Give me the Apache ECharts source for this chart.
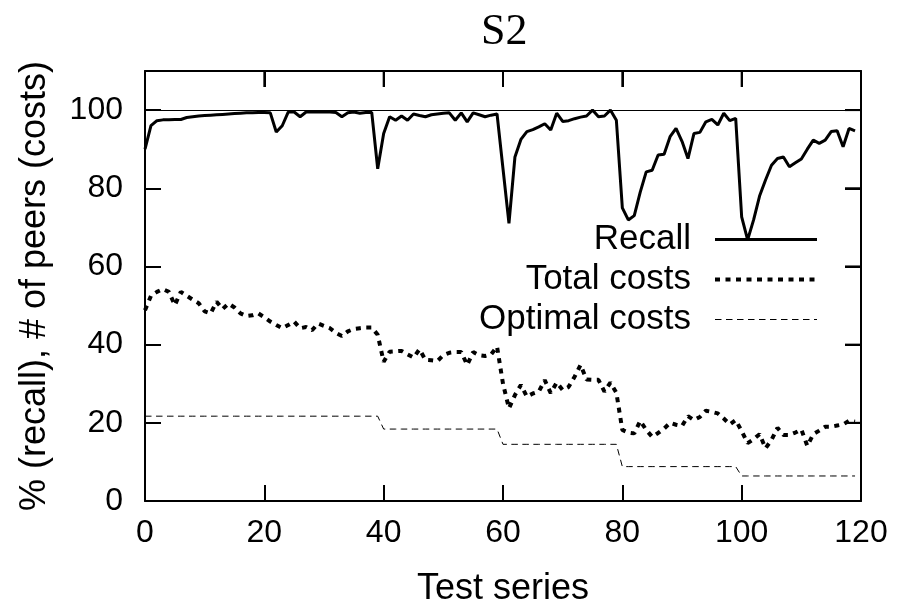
<!DOCTYPE html>
<html>
<head>
<meta charset="utf-8">
<script src="https://cdn.jsdelivr.net/npm/echarts@6/dist/echarts.min.js"></script>
<style>html,body{margin:0;padding:0;background:#fff}#c{width:898px;height:604px}</style>
</head>
<body>
<div id="c"></div>
<script>
const titleText = 'S2';
const seriesNames = ['Recall', 'Total costs', 'Optimal costs'];
const xTicks = [0, 20, 40, 60, 80, 100, 120];
const yTicks = [0, 20, 40, 60, 80, 100];
const recall = [
  90, 96, 97.3, 97.5, 97.5, 97.6, 97.6, 98.1, 98.3, 98.5,
  98.6, 98.7, 98.8, 98.9, 99, 99.1, 99.2, 99.3, 99.3, 99.4,
  99.4, 99.3, 94.4, 96, 99.5, 99.5, 98.3, 99.5, 99.5, 99.5,
  99.5, 99.5, 99.4, 98.3, 99.3, 99.5, 99.2, 99.4, 99.4, 85,
  94, 98.3, 97.4, 98.5, 97.4, 99, 98.6, 98.3, 98.8, 99,
  99.2, 99.3, 97.4, 99.3, 97, 99.3, 98.8, 98.3, 98.7, 99,
  85, 71, 88, 92.5, 94.5, 95, 95.7, 96.5, 94.9, 99.2,
  97.1, 97.3, 97.8, 98.2, 98.5, 100, 98.3, 98.5, 100, 97.4,
  75, 71.9, 73, 79, 84.2, 84.6, 88.5, 88.7, 93.2, 95.3,
  92, 87.6, 94, 94.3, 97, 97.6, 96.2, 99.2, 97.3, 97.9,
  72.7, 66.8, 71.9, 78, 82.1, 85.9, 87.6, 88, 85.5, 86.5,
  87.5, 90, 92.3, 91.5, 92.3, 94.5, 94.7, 90.6, 95.3, 94.7
];
const totalCosts = [
  48.8, 52.5, 53.5, 54.2, 53.5, 50.1, 53.5, 52.5, 51.5, 50.6,
  48.5, 48, 51, 49.1, 50.5, 49.5, 48, 47.3, 47.5, 48,
  47, 45.9, 45, 44.2, 45, 45.9, 44.2, 44.5, 43.7, 45.4,
  44.8, 44.2, 43, 42.2, 43.4, 44, 44.2, 44.4, 44.4, 42.5,
  35.6, 38.2, 38.3, 38.4, 37.5, 36.7, 38.8, 36.1, 36, 35.8,
  37.3, 37.9, 38.1, 38.1, 34.8, 38.1, 37.3, 37.1, 37.5, 39.5,
  30, 23.7, 27.1, 29.7, 26.7, 27.5, 28, 30.9, 27.6, 30.3,
  28.4, 29.2, 31.8, 34.8, 31.1, 31, 31, 28, 30.3, 27.7,
  18.2, 17.5, 17.3, 20.5, 18.2, 16.4, 17.4, 18.5, 20, 19.5,
  19.2, 21.7, 20.7, 21.5, 23.1, 22.8, 22.4, 21.1, 19.6, 20.7,
  17.9, 14.8, 15.8, 17.1, 13.5, 15.6, 18.7, 16.9, 16.9, 17.5,
  18.3, 14.1, 17.1, 18, 19, 19, 19.3, 19.6, 20.5, 20.3
];
const optimalCosts = [
  21.7, 21.7, 21.7, 21.7, 21.7, 21.7, 21.7, 21.7, 21.7, 21.7,
  21.7, 21.7, 21.7, 21.7, 21.7, 21.7, 21.7, 21.7, 21.7, 21.7,
  21.7, 21.7, 21.7, 21.7, 21.7, 21.7, 21.7, 21.7, 21.7, 21.7,
  21.7, 21.7, 21.7, 21.7, 21.7, 21.7, 21.7, 21.7, 21.7, 21.7,
  18.4, 18.4, 18.4, 18.4, 18.4, 18.4, 18.4, 18.4, 18.4, 18.4,
  18.4, 18.4, 18.4, 18.4, 18.4, 18.4, 18.4, 18.4, 18.4, 18.4,
  14.5, 14.5, 14.5, 14.5, 14.5, 14.5, 14.5, 14.5, 14.5, 14.5,
  14.5, 14.5, 14.5, 14.5, 14.5, 14.5, 14.5, 14.5, 14.5, 14.5,
  8.8, 8.8, 8.8, 8.8, 8.8, 8.8, 8.8, 8.8, 8.8, 8.8,
  8.8, 8.8, 8.8, 8.8, 8.8, 8.8, 8.8, 8.8, 8.8, 8.8,
  6.4, 6.4, 6.4, 6.4, 6.4, 6.4, 6.4, 6.4, 6.4, 6.4,
  6.4, 6.4, 6.4, 6.4, 6.4, 6.4, 6.4, 6.4, 6.4, 6.4
];
const refLineValue = 100;

const X_MAX = 120, Y_MAX = 110;
const toPairs = arr => arr.map((v, i) => [i, v]);
const FONT = 'Liberation Sans';
const mkLine = () => ({ show: true, onZero: false, lineStyle: { color: '#000', width: 2 } });
const mkTick = () => ({ show: true, inside: true, length: 16, lineStyle: { color: '#000', width: 2 } });
const gridRect = { left: 145, right: 37, top: 71, bottom: 103, containLabel: false, outerBoundsMode: 'none' };

const lineStyles = [
  { color: '#000', width: 3, type: 'solid' },
  { color: '#000', width: 4, type: [5, 5.5] },
  { color: '#000', width: 1, type: [6.5, 4.5] }
];

const chart = echarts.init(document.getElementById('c'), null, { renderer: 'canvas' });
chart.setOption({
  animation: false,
  backgroundColor: '#fff',
  title: {
    text: titleText, left: 481, top: 10, padding: 0,
    textStyle: { fontFamily: 'Liberation Serif', fontSize: 44, fontWeight: 'normal', color: '#000' }
  },
  grid: [Object.assign({}, gridRect)],
  legend: {
    data: seriesNames.map((n, i) => ({ name: n, lineStyle: lineStyles[i] })),
    orient: 'vertical', right: 74, top: 217, align: 'right',
    itemWidth: 102, itemHeight: 14, itemGap: 5,
    itemStyle: { opacity: 0 },
    lineStyle: { width: 'inherit', type: 'inherit', color: '#000' },
    textStyle: { fontFamily: FONT, fontSize: 35, color: '#000', lineHeight: 35, padding: [0, 19, 0, 0] },
    selectedMode: false
  },
  xAxis: [{
    gridIndex: 0, type: 'value', min: xTicks[0], max: X_MAX, interval: 20,
    position: 'bottom', axisLine: mkLine(), axisTick: mkTick(), splitLine: { show: false },
    name: 'Test series', nameLocation: 'middle', nameGap: 70,
    nameTextStyle: { fontFamily: FONT, fontSize: 36, color: '#000' },
    axisLabel: { fontFamily: FONT, fontSize: 32, color: '#000', margin: 16 }
  }, {
    gridIndex: 0, type: 'value', min: xTicks[0], max: X_MAX, interval: 20,
    position: 'top', axisLine: mkLine(), axisTick: mkTick(), splitLine: { show: false },
    axisLabel: { show: false }
  }],
  yAxis: [{
    gridIndex: 0, type: 'value', min: yTicks[0], max: Y_MAX, interval: 20,
    position: 'left', axisLine: mkLine(), axisTick: mkTick(), splitLine: { show: false },
    name: '% (recall), # of peers (costs)', nameLocation: 'middle', nameGap: 92,
    nameTextStyle: { fontFamily: FONT, fontSize: 36, color: '#000' },
    axisLabel: { fontFamily: FONT, fontSize: 32, color: '#000', margin: 22,
      formatter: v => (yTicks.indexOf(v) >= 0 ? String(v) : '') }
  }, {
    gridIndex: 0, type: 'value', min: yTicks[0], max: Y_MAX, interval: 20,
    position: 'right', axisLine: mkLine(), axisTick: mkTick(), splitLine: { show: false },
    axisLabel: { show: false }
  }],
  series: [{
    name: seriesNames[0], type: 'line', data: toPairs(recall), symbol: 'none', showSymbol: false,
    xAxisIndex: 0, yAxisIndex: 0,
    lineStyle: lineStyles[0], itemStyle: { color: '#000' },
    markLine: { silent: true, symbol: 'none', label: { show: false },
      lineStyle: { color: '#000', width: 1, type: 'solid' }, data: [{ yAxis: refLineValue }] }
  }, {
    name: seriesNames[1], type: 'line', data: toPairs(totalCosts), symbol: 'none', showSymbol: false,
    xAxisIndex: 0, yAxisIndex: 0,
    lineStyle: lineStyles[1], itemStyle: { color: '#000' }
  }, {
    name: seriesNames[2], type: 'line', data: toPairs(optimalCosts), symbol: 'none', showSymbol: false,
    xAxisIndex: 1, yAxisIndex: 1,
    lineStyle: lineStyles[2], itemStyle: { color: '#000' }
  }]
});

// Mirror ticks on the top and right frame edges, positioned through the chart's own scales.
const TICK_LEN = 16;
const tickGraphics = [];
xTicks.forEach(x => {
  const p = chart.convertToPixel({ xAxisIndex: 0, yAxisIndex: 0 }, [x, Y_MAX]);
  if (p) tickGraphics.push({ type: 'line', silent: true, z: 100,
    shape: { x1: p[0], y1: p[1], x2: p[0], y2: p[1] + TICK_LEN },
    style: { stroke: '#000', lineWidth: 2 } });
});
yTicks.forEach(y => {
  const p = chart.convertToPixel({ xAxisIndex: 0, yAxisIndex: 0 }, [X_MAX, y]);
  if (p) tickGraphics.push({ type: 'line', silent: true, z: 100,
    shape: { x1: p[0], y1: p[1], x2: p[0] - TICK_LEN, y2: p[1] },
    style: { stroke: '#000', lineWidth: 2 } });
});
chart.setOption({ graphic: tickGraphics });
</script>
</body>
</html>
